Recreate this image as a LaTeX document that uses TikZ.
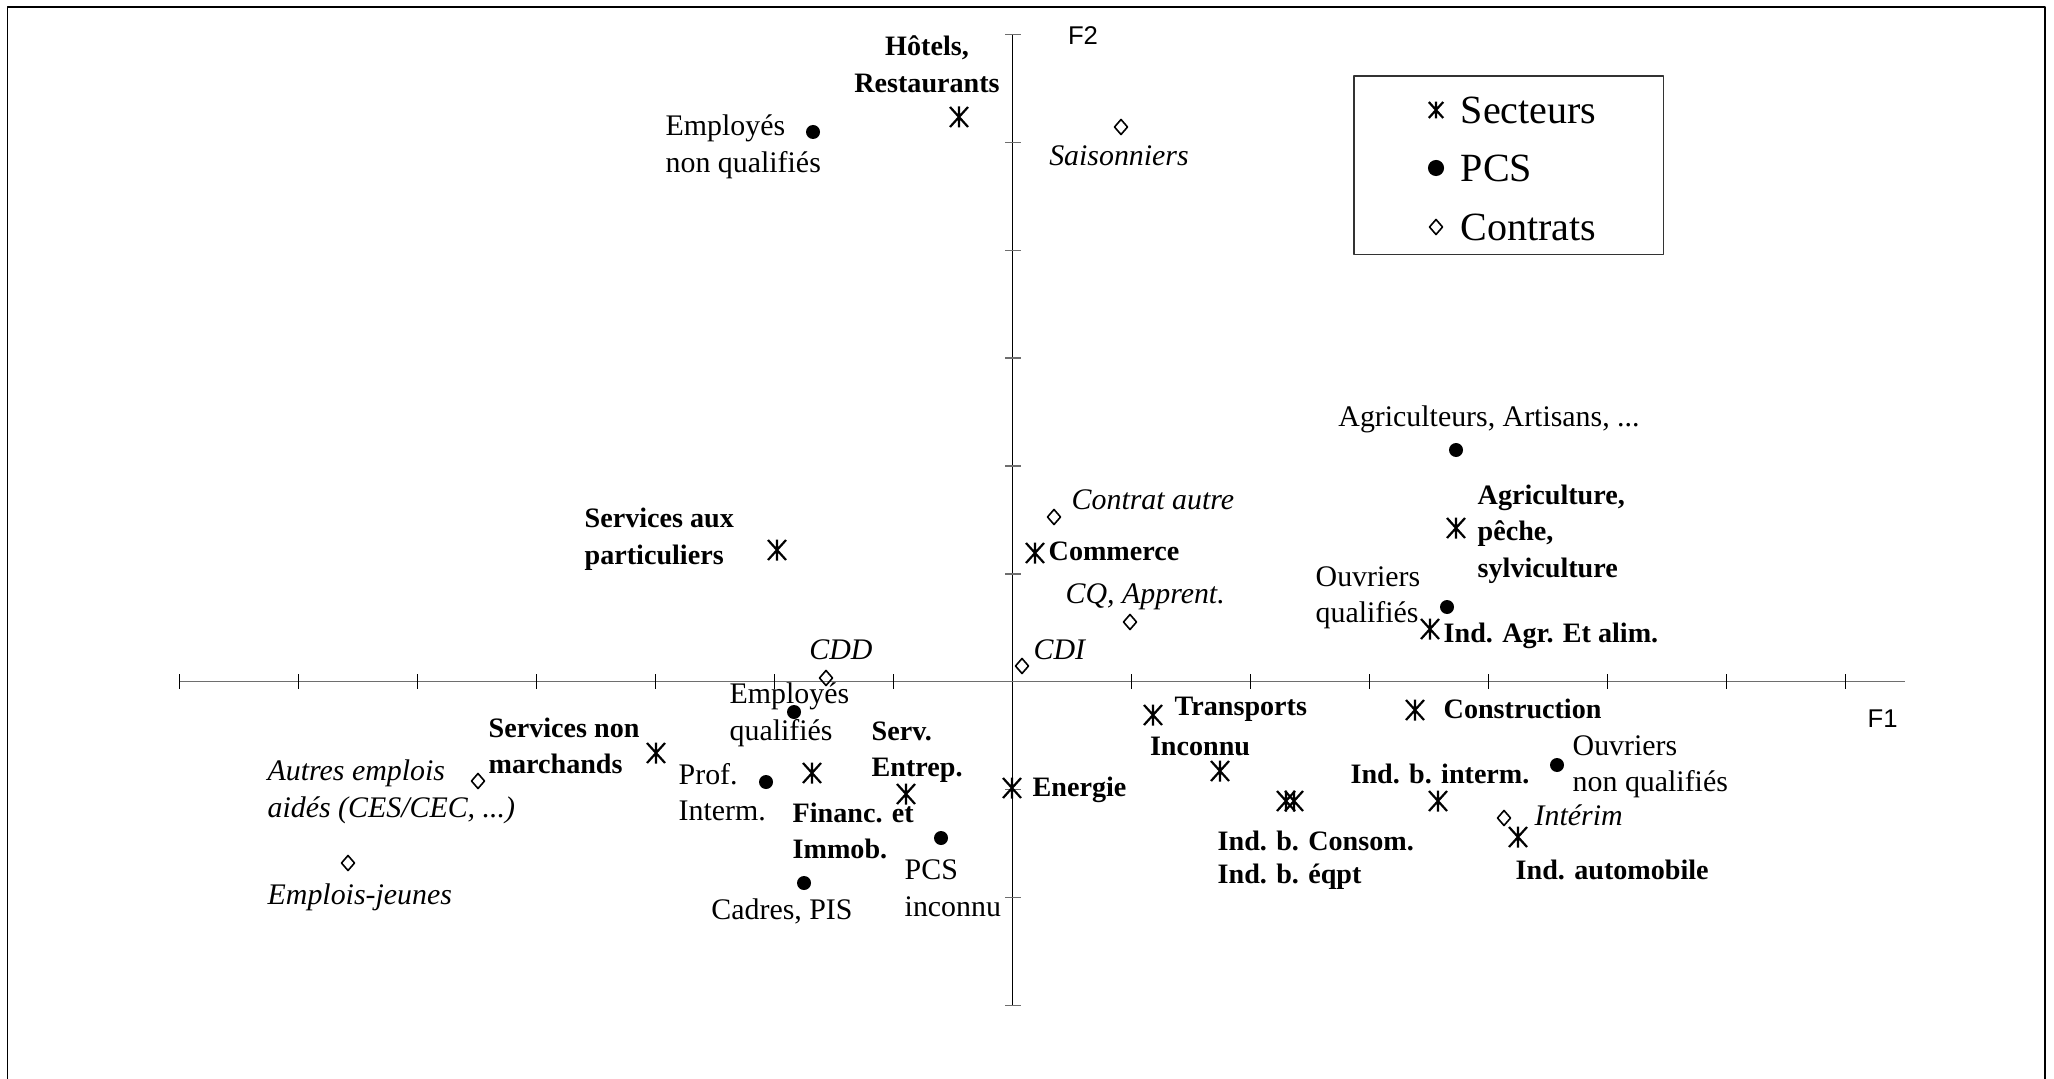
\documentclass[tikz,border=0pt]{standalone}
\usepackage{fontspec}
\setmainfont{Liberation Serif}
\setsansfont{Liberation Sans}
\usepackage{tikz}
\definecolor{axisgray}{HTML}{6E6E6E}
\tikzset{
  MarkLine/.style={line width=0.22mm},
  SectLabel/.style={font=\bfseries\fontsize{8}{10.4}\selectfont, inner sep=0pt, align=left},
  PcsLabel/.style={font=\fontsize{8.5}{10.4}\selectfont, inner sep=0pt, align=left},
  ContLabel/.style={font=\itshape\fontsize{8.5}{10.4}\selectfont, inner sep=0pt, align=left},
  AxisName/.style={font=\sffamily\fontsize{7.3}{9}\selectfont, inner sep=0pt},
  LegendText/.style={font=\fontsize{11.4}{13}\selectfont, inner sep=0pt, anchor=west}
}
\newcommand{\SectMark}[2][]{%
  % asterisk: one upright stroke and two crossed ones
  \draw[MarkLine,shift={(#2)},#1] (-9,-10)--(9,10) (-9,10)--(9,-10) (0,-10.5)--(0,10.5);}
\newcommand{\PcsMark}[2][]{\fill[shift={(#2)},#1] (0,0) circle[radius=7];}
\newcommand{\ContMark}[2][]{%
  \draw[MarkLine,line width=0.16mm,shift={(#2)},#1] (0,-7.5)--(6.5,0)--(0,7.5)--(-6.5,0)--cycle;}

\begin{document}
\begin{tikzpicture}[x=0.1mm, y=-0.1mm, line join=round]
  \useasboundingbox (0,0) rectangle (2054,1079);
  % frame, open at the bottom
  \draw[line width=0.18mm] (7.5,1079) -- (7.5,7) -- (2045,7) -- (2045,1079);

  % axes
  \coordinate (O) at (1012.4,681.6);
  \coordinate (xL) at (179.4,681.6);
  \coordinate (xR) at (1904.5,681.6);
  \coordinate (yT) at (1012.4,34.4);
  \coordinate (yB) at (1012.4,1005.5);
  \draw[axisgray, line width=0.15mm] (xL) -- (xR);
  \draw[line width=0.1mm] (yT) -- (yB);
  \foreach \i in {0,...,14}
    \draw[line width=0.1mm] ({179.4+119*\i},674) -- ({179.4+119*\i},689);
  \foreach \j in {0,...,9}
    \draw[axisgray, line width=0.12mm] (1005,{34.4+107.9*\j}) -- (1021,{34.4+107.9*\j});
  \node[AxisName] (F1) at (1882.6,718.8) {F1};
  \node[AxisName] (F2) at (1083,36) {F2};

  % secteurs
  \coordinate (hotel) at (959,117);
  \coordinate (servpart) at (777,550);
  \coordinate (commerce) at (1035,553);
  \coordinate (agri) at (1456,528);
  \coordinate (indagr) at (1430,629);
  \coordinate (transp) at (1153,715);
  \coordinate (inconnu) at (1220,771);
  \coordinate (constr) at (1415,710);
  \coordinate (consom) at (1286,801);
  \coordinate (eqpt) at (1294,801);
  \coordinate (interm) at (1438,801);
  \coordinate (automob) at (1518,837);
  \coordinate (energie) at (1012,788);
  \coordinate (serventr) at (906,794);
  \coordinate (financ) at (812,773);
  \coordinate (servnm) at (656,753);
  \foreach \p in {hotel,servpart,commerce,agri,indagr,transp,inconnu,constr,
                  consom,eqpt,interm,automob,energie,serventr,financ,servnm}
    \SectMark{\p};

  \node[SectLabel, align=center] (hotel-l) at (927,64) {Hôtels,\\Restaurants};
  \node[SectLabel, anchor=west] (servpart-l) at (584,539) {Services aux\\particuliers};
  \node[SectLabel, anchor=west] (commerce-l) at (1048,551) {Commerce};
  \node[SectLabel, anchor=west] (agri-l) at (1477,534) {Agriculture,\\pêche,\\sylviculture};
  \node[SectLabel, anchor=west] (indagr-l) at (1443,636) {Ind. Agr. Et alim.};
  \node[SectLabel, anchor=west] (transp-l) at (1174,709) {Transports};
  \node[SectLabel] (inconnu-l) at (1200,746) {Inconnu};
  \node[SectLabel, anchor=west] (constr-l) at (1443,709) {Construction};
  \node[SectLabel, anchor=west] (consom-l) at (1217,841) {Ind. b. Consom.};
  \node[SectLabel, anchor=west] (eqpt-l) at (1217,877) {Ind. b. éqpt};
  \node[SectLabel] (interm-l) at (1440,774) {Ind. b. interm.};
  \node[SectLabel, anchor=west] (automob-l) at (1515,870) {Ind. automobile};
  \node[SectLabel, anchor=west] (energie-l) at (1032,790) {Energie};
  \node[SectLabel, anchor=west] (serventr-l) at (871,752) {Serv.\\Entrep.};
  \node[SectLabel, anchor=west] (financ-l) at (792,831) {Financ. et\\Immob.};
  \node[SectLabel, anchor=west] (servnm-l) at (488,746) {Services non\\marchands};

  % PCS
  \coordinate (enq) at (813,132);
  \coordinate (agric) at (1456,450);
  \coordinate (oq) at (1447,607);
  \coordinate (onq) at (1557,765);
  \coordinate (eq) at (794,712);
  \coordinate (prof) at (766,782);
  \coordinate (cadres) at (804,883);
  \coordinate (pcsinc) at (941,838);
  \foreach \p in {enq,agric,oq,onq,eq,prof,cadres,pcsinc}
    \PcsMark{\p};

  \node[PcsLabel, anchor=west] (enq-l) at (665,147) {Employés\\non qualifiés};
  \node[PcsLabel] (agric-l) at (1489,419) {Agriculteurs, Artisans, ...};
  \node[PcsLabel, anchor=west] (oq-l) at (1315,598) {Ouvriers\\qualifiés};
  \node[PcsLabel, anchor=west] (onq-l) at (1572,767) {Ouvriers\\non qualifiés};
  \node[PcsLabel, anchor=west] (eq-l) at (729,715) {Employés\\qualifiés};
  \node[PcsLabel, anchor=west] (prof-l) at (678,792) {Prof.\\Interm.};
  \node[PcsLabel] (cadres-l) at (782,911) {Cadres, PIS};
  \node[PcsLabel, anchor=west] (pcsinc-l) at (904,888) {PCS\\inconnu};

  % contrats
  \coordinate (saison) at (1121,127);
  \coordinate (cautre) at (1054,517);
  \coordinate (cq) at (1130,622);
  \coordinate (cdi) at (1022,666);
  \coordinate (cdd) at (826,678);
  \coordinate (aides) at (478,781);
  \coordinate (jeunes) at (348,863);
  \coordinate (interim) at (1504,818);
  \foreach \p in {saison,cautre,cq,cdi,cdd,aides,jeunes,interim}
    \ContMark{\p};

  \node[ContLabel] (saison-l) at (1119,156) {Saisonniers};
  \node[ContLabel, anchor=west] (cautre-l) at (1071,500) {Contrat autre};
  \node[ContLabel, anchor=west] (cq-l) at (1065,597) {CQ, Apprent.};
  \node[ContLabel, anchor=west] (cdi-l) at (1033,650) {CDI};
  \node[ContLabel] (cdd-l) at (841,650) {CDD};
  \node[ContLabel, anchor=west] (aides-l) at (267,792) {Autres emplois\\aidés (CES/CEC, ...)};
  \node[ContLabel, anchor=west] (jeunes-l) at (267,897) {Emplois-jeunes};
  \node[ContLabel, anchor=west] (interim-l) at (1534,815) {Intérim};

  % legend
  \draw[line width=0.12mm, black!80] (1354,76) rectangle (1663.5,254.5);
  \coordinate (lgS) at (1436,110);
  \coordinate (lgP) at (1436,168);
  \coordinate (lgC) at (1436,227);
  \SectMark[scale=0.8]{lgS};
  \PcsMark[scale=1.15]{lgP};
  \ContMark{lgC};
  \node[LegendText] (lgS-t) at (1460,110) {Secteurs};
  \node[LegendText] (lgP-t) at (1460,168) {PCS};
  \node[LegendText] (lgC-t) at (1460,227) {Contrats};
\end{tikzpicture}
\end{document}
